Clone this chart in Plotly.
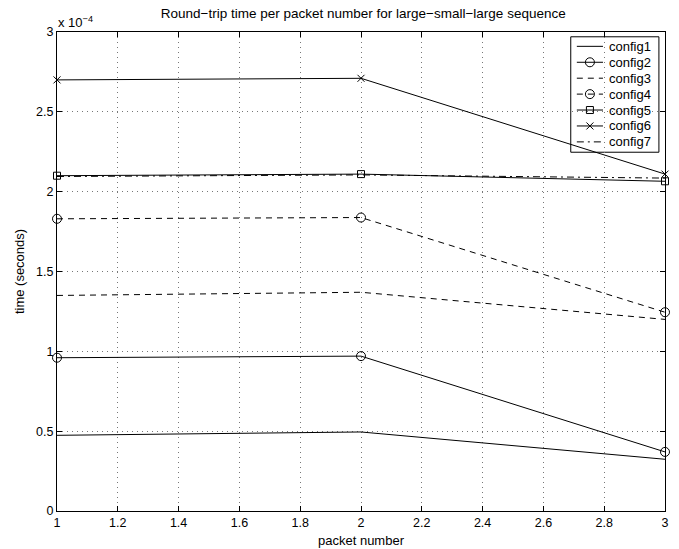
import plotly.graph_objects as go

packets = [1, 2, 3]
config1 = [0.474e-4, 0.495e-4, 0.324e-4]
config2 = [0.96e-4, 0.97e-4, 0.37e-4]
config3 = [1.35e-4, 1.37e-4, 1.20e-4]
config4 = [1.83e-4, 1.838e-4, 1.245e-4]
config5 = [2.10e-4, 2.11e-4, 2.065e-4]
config6 = [2.70e-4, 2.71e-4, 2.11e-4]
config7 = [2.095e-4, 2.105e-4, 2.085e-4]

x_ticks = [1, 1.2, 1.4, 1.6, 1.8, 2, 2.2, 2.4, 2.6, 2.8, 3]
x_ticktext = ["1", "1.2", "1.4", "1.6", "1.8", "2", "2.2", "2.4", "2.6", "2.8", "3"]
y_ticks = [0, 0.5e-4, 1e-4, 1.5e-4, 2e-4, 2.5e-4, 3e-4]
y_ticktext = ["0", "0.5", "1", "1.5", "2", "2.5", "3"]

series_names = ["config1", "config2", "config3", "config4", "config5", "config6", "config7"]
series_vals = [config1, config2, config3, config4, config5, config6, config7]
dashes = ["solid", "solid", "6px,5px", "6px,5px", "solid", "solid", "7px,4px,2px,4px"]
symbols = [None, "circle-open", None, "circle-open", "square-open", "x-thin-open", None]
sizes = [0, 9, 0, 9, 7, 7, 0]

font = "Liberation Sans, Arial, Helvetica, sans-serif"

fig = go.Figure()
for name, vals, dash, sym, sz in zip(series_names, series_vals, dashes, symbols, sizes):
    mode = "lines+markers" if sym else "lines"
    marker = dict(symbol=sym, size=sz, color="black",
                  line=dict(color="black", width=1)) if sym else None
    fig.add_trace(go.Scatter(x=packets, y=vals, name=name, mode=mode,
                             line=dict(color="black", width=1, dash=dash),
                             marker=marker, cliponaxis=False, showlegend=False))

# manual legend on an overlay axis (0..1 in plot-area fraction)
box_l, box_r, box_t, box_b = 0.845, 0.990, 0.990, 0.749
row_h = (box_t - box_b) / 7.25
for i, (name, dash, sym, sz) in enumerate(zip(series_names, dashes, symbols, sizes)):
    yy = box_t - row_h * (0.6 + i)
    x0, x1 = box_l + 0.010, box_l + 0.053
    fig.add_trace(go.Scatter(x=[x0, x1], y=[yy, yy], mode="lines", xaxis="x2", yaxis="y2",
                             line=dict(color="black", width=1, dash=dash),
                             showlegend=False, hoverinfo="skip"))
    if sym:
        fig.add_trace(go.Scatter(x=[(x0 + x1) / 2], y=[yy], mode="markers", xaxis="x2", yaxis="y2",
                                 marker=dict(symbol=sym, size=sz, color="black",
                                             line=dict(color="black", width=1)),
                                 showlegend=False, hoverinfo="skip"))
    fig.add_annotation(text=name, xref="x2", yref="y2", x=box_l + 0.059, y=yy,
                       xanchor="left", yanchor="middle", showarrow=False,
                       font=dict(size=13, color="black", family=font))

fig.add_shape(type="rect", xref="x2", yref="y2", x0=box_l, x1=box_r, y0=box_b, y1=box_t,
              line=dict(color="black", width=1), fillcolor="white", layer="below")

axis_common = dict(showline=True, linecolor="black", linewidth=1, mirror="ticks",
                   ticks="inside", ticklen=5, tickcolor="black", automargin=False,
                   showgrid=True, gridcolor="#777", griddash="1px,4px", gridwidth=1,
                   zeroline=False, tickfont=dict(size=12.5, color="black", family=font))

fig.update_layout(
    width=679, height=549,
    paper_bgcolor="white", plot_bgcolor="white",
    margin=dict(l=57, r=14, t=32, b=38),
    title=dict(text="Round\u2212trip time per packet number for large\u2212small\u2212large sequence",
               x=0.535, xanchor="center", y=0.984, yanchor="top",
               font=dict(size=13.5, color="black", family=font)),
    xaxis=dict(range=[1, 3], tickvals=x_ticks, ticktext=x_ticktext,
               title=dict(text="packet number", font=dict(size=13, color="black", family=font), standoff=6),
               **axis_common),
    yaxis=dict(range=[0, 3e-4], tickvals=y_ticks, ticktext=y_ticktext,
               title=dict(text="time (seconds)", font=dict(size=13, color="black", family=font), standoff=8),
               **axis_common),
    xaxis2=dict(range=[0, 1], overlaying="x", visible=False, fixedrange=True),
    yaxis2=dict(range=[0, 1], overlaying="y", visible=False, fixedrange=True),
    showlegend=False,
    annotations=list(fig.layout.annotations) + [
        dict(text="x 10<sup>\u22124</sup>", xref="paper", yref="paper",
             x=-0.002, y=1.0, xanchor="left", yanchor="bottom", showarrow=False,
             font=dict(size=13, color="black", family=font))],
)

fig.write_html("out.html", config={"displayModeBar": False})
with open("out.html", encoding="utf-8") as f:
    html = f.read()
html = html.replace("<head>", "<head><style>html,body{margin:0;padding:0;}</style>", 1)
with open("out.html", "w", encoding="utf-8") as f:
    f.write(html)
